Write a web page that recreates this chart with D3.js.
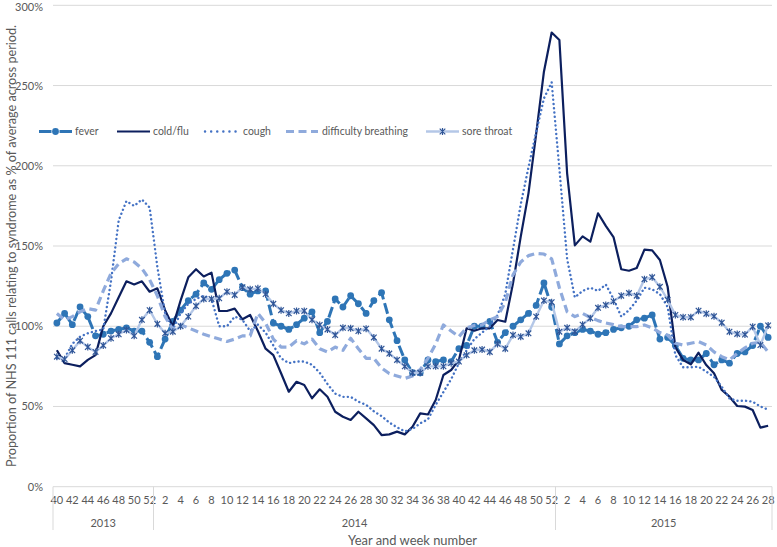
<!DOCTYPE html>
<html><head><meta charset="utf-8">
<script src="https://cdn.jsdelivr.net/npm/d3@7"></script>
<style>
body{margin:0;background:#fff}
svg{display:block}
text{font-family:Lato,"Open Sans",sans-serif;fill:#595959}
</style>
</head><body>
<svg id="c" width="777" height="547"></svg>
<script>
// ---- data ----
const years = [2013, 2014, 2015];
const weeks2013 = [40,41,42,43,44,45,46,47,48,49,50,51,52];
const weeks2014 = [1,2,3,4,5,6,7,8,9,10,11,12,13,14,15,16,17,18,19,20,21,22,23,24,25,26,27,28,29,30,31,32,33,34,35,36,37,38,39,40,41,42,43,44,45,46,47,48,49,50,51,52];
const weeks2015 = [1,2,3,4,5,6,7,8,9,10,11,12,13,14,15,16,17,18,19,20,21,22,23,24,25,26,27,28];
const yTicks = [0,50,100,150,200,250,300];

const fever = [102,108,101,112,106,94,95,97,98,99,97,97,90,
  81,92,103,110,116,120,127,123,129,133,135,124,120,
  122,122,102,100,98,101,105,109,96,103,117,112,119,
  114,108,116,121,104,91,79,71,71,79,78,79,78,
  86,88,100,100,103,90,96,100,104,108,113,127,112,
  89,94,96,98,97,95,96,98,99,100,104,105,107,
  92,93,88,80,79,79,83,76,79,77,83,84,88,100,93];
const coldFlu = [85,77,76,75,79,82,100,108,118,128,126,128,121.5,
  123.6,110,100,116,130.5,135.5,131,133.4,109.5,109.5,111,104.3,107,
  97,86,82,70.7,59.2,65.4,63.4,55.1,60.7,56.1,46.7,43.6,41.6,
  46.7,42.6,38.4,32.2,32.6,34.3,32.6,37.4,45.7,45,54,69.6,72.7,
  79,98.7,97.2,98.7,98.7,103.9,102.8,126.7,155.8,182.8,220,258.6,283,
  278.4,195.3,150.4,156,152.7,170.4,162.5,155.6,135.5,134.6,136.3,147.7,147.3,
  141.3,124.6,87,79,76.3,83.5,75.8,70.7,60.3,56.1,50.3,49.9,47.8,36.8,38];
const cough = [80,80,89,93.5,95.6,97,98,128,166,178,175,179,174,
  137,108,98,108,114,117,119,117,100,100,106,104,97,
  101,96,88,80,77,78,78,76,71,64,58,56,56,
  53,51,47,44,40,37,34.5,36,39.5,42,51,59,67,
  77,85,92,96,100,107,120,148,176,199,221,242,252,
  198,142,118,122,124,122,126,117,106,110,116,124,123,
  120,112,82,74.4,74.4,74.8,71.7,68.5,62.3,55,53.6,53.6,53,50,48];
const difficultyBreathing = [108,104,106,109,111,110,122,133,139,142,140,136,129,
  119,106,98,101,99,97,95,93.5,92,90.5,92,94,94,
  108,102,92,87,87,91,89,92,86,84,87,85,92.5,
  86,80,80,74,70.5,69,67.5,69,73,80,89,100.8,97,
  93.5,99,100.5,100.8,104,106,115,132,140,144,145.4,145,142,
  124,109,106,108,105.5,103.5,102,101,99.7,99.7,99.7,100.8,99,
  96,94.5,89.4,88.3,89.4,90.4,88.3,84,81,79,83,86.5,89.4,90,84];
const soreThroat = [81,79.5,85,91,87,84,88,92.5,95,97.7,94,104,110,
  101.4,95.6,96.6,100,106,112.6,117,117,117.4,121.5,119.5,124.3,123,
  123.6,120,114,110,108,109.5,109.5,104,100.8,98,94.5,99,98.7,
  97,98.5,93,86,83,79,75,71,71,75,75,75,77,
  78,82,85,85.5,84,89,86,94.5,93.5,95.6,106,116,115,
  96.6,99,96.6,101,105,111.5,113.2,115.5,119,120.7,119,129.3,130.5,
  124.6,116.5,107,105.6,105.6,109.7,107.8,106.2,102.2,96.6,95.2,94.8,99.7,88.3,100.5];

// ---- build categories ----
const weekLists = [weeks2013, weeks2014, weeks2015];
const cats = [];
weekLists.forEach((wl, yi) => wl.forEach(w => cats.push({year: years[yi], week: w})));

const series = [
  {name:"fever", values:fever, color:"#2E75B6", width:3, dash:"11,4", marker:"circle"},
  {name:"cold/flu", values:coldFlu, color:"#0C1F5E", width:2.2, dash:null, marker:null},
  {name:"cough", values:cough, color:"#4472C4", width:2.4, dash:"0.1,4.2", cap:"round", marker:null},
  {name:"difficulty breathing", values:difficultyBreathing, color:"#8FAADC", width:3.2, dash:"8,4.5", marker:null},
  {name:"sore throat", values:soreThroat, color:"#B4C7E7", width:2.4, dash:null, marker:"star", mcolor:"#2F5597"}
];

function fit(sel, target) {
  const w = sel.node().getComputedTextLength();
  const fs = parseFloat(sel.attr("font-size"));
  if (w > 0) sel.attr("font-size", (fs * target / w).toFixed(2));
}

// ---- layout ----
const svg = d3.select("#c");
const P = {l:53, r:772, t:5.3, b:486.7};
const x = d3.scaleBand().domain(d3.range(cats.length)).range([P.l, P.r]);
const cx = i => x(i) + x.bandwidth()/2;
const y = d3.scaleLinear().domain([0,300]).range([P.b, P.t]);

// gridlines
svg.append("g").selectAll("line").data(yTicks.filter(d=>d>0)).join("line")
  .attr("x1",P.l).attr("x2",P.r).attr("y1",d=>y(d)).attr("y2",d=>y(d))
  .attr("stroke","#D9D9D9").attr("stroke-width",1);

// y axis labels
const ya = svg.append("g").attr("transform",`translate(${P.l},0)`)
  .call(d3.axisLeft(y).tickValues(yTicks).tickFormat(d=>d+"%").tickSize(0).tickPadding(10));
ya.select(".domain").remove();
ya.selectAll("text").attr("font-size",11).attr("fill","#595959").style("font-family","Lato")
  .attr("dy", d => d===300 ? "0.45em" : "0.32em");

// x axis
const xa = svg.append("g").attr("transform",`translate(0,${P.b})`)
  .call(d3.axisBottom(x).tickValues(d3.range(0,cats.length,2)).tickFormat(i=>cats[i].week).tickSize(0).tickPadding(10));
xa.select(".domain").remove();
xa.selectAll("text").attr("font-size",11).attr("fill","#595959").style("font-family","Lato");
svg.append("line").attr("x1",P.l).attr("x2",P.r).attr("y1",P.b).attr("y2",P.b)
  .attr("stroke","#D9D9D9").attr("stroke-width",1);

// year groups
const groups = years.map(yr => {
  const idx = cats.map((c,i)=>c.year===yr?i:-1).filter(i=>i>=0);
  return {year:yr, x0:x(idx[0]), x1:x(idx[idx.length-1])+x.bandwidth()};
});
const bounds = [groups[0].x0, ...groups.map(g=>g.x1)];
svg.append("g").selectAll("line").data(bounds).join("line")
  .attr("x1",d=>d).attr("x2",d=>d).attr("y1",P.b).attr("y2",530)
  .attr("stroke","#D9D9D9").attr("stroke-width",1);
svg.append("g").selectAll("text").data(groups).join("text")
  .attr("x",g=>(g.x0+g.x1)/2).attr("y",527).attr("text-anchor","middle")
  .attr("font-size",11).text(g=>g.year);

// titles
const xt = svg.append("text").attr("x",412.5).attr("y",544.5).attr("text-anchor","middle")
  .attr("font-size",13).text("Year and week number");
fit(xt, 129);
const yt = svg.append("text").attr("transform","translate(16,246) rotate(-90)").attr("text-anchor","middle")
  .attr("font-size",12.5).text("Proportion of NHS 111 calls relating to syndrome as % of average across period.");
fit(yt, 442);

// lines
const line = d3.line().x((d,i)=>cx(i)).y(d=>y(d)).defined(d=>d!=null);
const starPath = "M-2.8,-2.8L2.8,2.8M-2.8,2.8L2.8,-2.8M0,-3.5L0,3.5";
series.forEach(s => {
  const g = svg.append("g");
  g.append("path").datum(s.values).attr("d",line).attr("fill","none")
    .attr("stroke",s.color).attr("stroke-width",s.width)
    .attr("stroke-dasharray",s.dash).attr("stroke-linecap",s.cap||"butt")
    .attr("stroke-linejoin","round");
  if (s.marker==="circle") {
    g.selectAll("circle").data(s.values).join("circle")
      .attr("cx",(d,i)=>cx(i)).attr("cy",d=>y(d)).attr("r",3.4).attr("fill",s.color);
  } else if (s.marker==="star") {
    g.selectAll("path.m").data(s.values).join("path").attr("class","m")
      .attr("transform",(d,i)=>`translate(${cx(i)},${y(d)})`).attr("d",starPath)
      .attr("stroke",s.mcolor).attr("stroke-width",1.2).attr("fill","none");
  }
});

// legend
const legendItems = [
  {s:series[0], x0:39, x1:72, tx:75},
  {s:series[1], x0:117, x1:150, tx:153},
  {s:series[2], x0:205, x1:238, tx:243},
  {s:series[3], x0:286, x1:318, tx:322},
  {s:series[4], x0:426, x1:459, tx:462}
];
const ly = 131.5;
const lg = svg.append("g");
const ltexts = [];
legendItems.forEach(it => {
  const s = it.s;
  const mx = (it.x0+it.x1)/2;
  if (s.marker==="circle") {
    [[it.x0, mx-4],[mx+4, it.x1]].forEach(([a,b]) =>
      lg.append("line").attr("x1",a).attr("x2",b).attr("y1",ly).attr("y2",ly)
        .attr("stroke",s.color).attr("stroke-width",s.width));
    lg.append("circle").attr("cx",mx).attr("cy",ly).attr("r",3.4).attr("fill",s.color);
  } else {
    lg.append("line").attr("x1",it.x0).attr("x2",it.x1).attr("y1",ly).attr("y2",ly)
      .attr("stroke",s.color).attr("stroke-width",s.width)
      .attr("stroke-dasharray",s.name==="cough"?"0.1,6":s.dash).attr("stroke-linecap",s.cap||"butt");
  }
  if (s.marker==="star") lg.append("path").attr("transform",`translate(${mx},${ly})`).attr("d",starPath)
    .attr("stroke",s.mcolor).attr("stroke-width",1.2).attr("fill","none");
  ltexts.push(lg.append("text").attr("x",it.tx).attr("y",ly).attr("dy","0.35em").attr("font-size",12).text(s.name));
});
const probe = ltexts[3];
const w = probe.node().getComputedTextLength();
const lfs = (12 * 86 / w).toFixed(2);
ltexts.forEach(t => t.attr("font-size", lfs));
</script>
</body></html>
